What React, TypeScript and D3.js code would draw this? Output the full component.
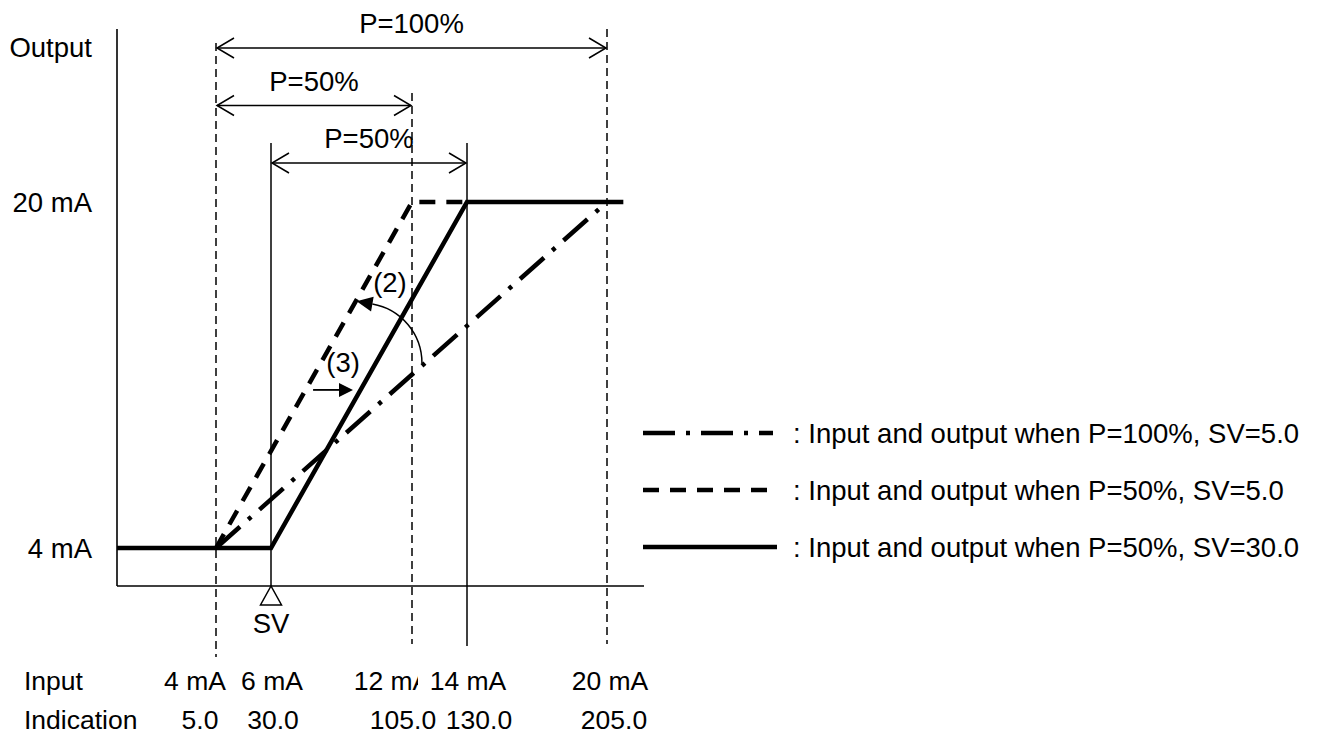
import React from "react";
import * as d3 from "d3";

// ---- data ----
const inputTickValues = [4, 6, 12, 14, 20];
const inputTickLabels = ["4 mA", "6 mA", "12 mA", "14 mA", "20 mA"];
const indicationTickLabels = ["5.0", "30.0", "105.0", "130.0", "205.0"];
const outputTickValues = [4, 20];
const outputTickLabels = ["4 mA", "20 mA"];

// [input mA, output mA]
const seriesP100SV5: [number, number][] = [[4, 4], [20, 20]];
const seriesP50SV5: [number, number][] = [[4, 4], [12, 20], [14, 20]];
const seriesP50SV30: [number, number][] = [[0.4, 4], [6, 4], [14, 20], [20.7, 20]];

const spanLabels = ["P=100%", "P=50%", "P=50%"];
const spanFrom = [4, 4, 6];
const spanTo = [20, 12, 14];

const legendLabels = [
  ": Input and output when P=100%, SV=5.0",
  ": Input and output when P=50%, SV=5.0",
  ": Input and output when P=50%, SV=30.0",
];

const W = 1325;
const H = 753;
const FONT = "'Liberation Sans', Arial, Helvetica, sans-serif";
const FS = 27.5;
const FS_TABLE = 26.5;

// layout offsets of the bottom table labels relative to their tick (px)
const inputLabelDx = [-21, 1, -20, 1, 3];
const indicationLabelDx = [-16, 2, -9, 12, 7];

export default function App() {
  const x = d3.scaleLinear().domain([4, 6, 12, 14, 20]).range([216, 271, 412, 467, 607]);
  const y = d3.scaleLinear().domain([4, 20]).range([548, 202]);
  const line = d3.line<[number, number]>().x((d) => x(d[0])).y((d) => y(d[1]));

  const axisX = 117;
  const axisY = 586;
  const rowY = (i: number) => 48 + i * 57.5;

  // vertical guides
  const guides = [
    { v: 4, dashed: true, top: 43, bottom: 657 },
    { v: 12, dashed: true, top: 93, bottom: 644 },
    { v: 20, dashed: true, top: 29, bottom: 644 },
    { v: 6, dashed: false, top: 143, bottom: axisY },
    { v: 14, dashed: false, top: 143, bottom: 646 },
  ];

  const openHead = (tx: number, ty: number, dir: number) => {
    const L = 17, hw = 10;
    return `M${tx - dir * L},${ty - hw}L${tx},${ty}L${tx - dir * L},${ty + hw}`;
  };

  // arc annotation (2)
  const cx = x(9.87), cy = y(12.55), r = 60;
  const th0 = 0, th1 = (80 * Math.PI) / 180;
  const p0 = [cx + r * Math.cos(th0), cy - r * Math.sin(th0)];
  const p1 = [cx + r * Math.cos(th1), cy - r * Math.sin(th1)];
  const tdir = [-Math.sin(th1), -Math.cos(th1)];
  const hl = 16, hw2 = 7.5;
  const tip = [p1[0] + tdir[0] * hl, p1[1] + tdir[1] * hl];
  const nrm = [-tdir[1], tdir[0]];
  const head2 = `M${tip[0]},${tip[1]}L${p1[0] + nrm[0] * hw2},${p1[1] + nrm[1] * hw2}L${p1[0] - nrm[0] * hw2},${p1[1] - nrm[1] * hw2}Z`;

  // arrow (3)
  const a3x0 = x(7.79), a3x1 = x(9.49), a3y = y(11.31);

  const thick = 4.5;
  const dashDot = "32,11,4,11";
  const dashed = "16,11";

  const legendY = [433, 490, 547];
  const legendStyles = [dashDot, dashed, undefined];

  return (
    <svg width={W} height={H} style={{ display: "block", position: "absolute", left: 0, top: 0, background: "#fff" }} fontFamily={FONT} fontSize={FS}>
      <defs>
        <clipPath id="clip12">
          <rect x={0} y={0} width={x(12) + 6} height={H} />
        </clipPath>
      </defs>
      <rect x={0} y={0} width={W} height={H} fill="#fff" />
      {/* axes */}
      <line x1={axisX} y1={29} x2={axisX} y2={axisY} stroke="#000" strokeWidth={1.6} />
      <line x1={axisX} y1={axisY} x2={644} y2={axisY} stroke="#000" strokeWidth={1.6} />

      {/* guides */}
      {guides.map((g, i) => (
        <line key={i} x1={x(g.v)} x2={x(g.v)} y1={g.top} y2={g.bottom} stroke="#000" strokeWidth={1.5} strokeDasharray={g.dashed ? "8,5" : undefined} />
      ))}

      {/* span arrows */}
      {spanLabels.map((lab, i) => {
        const x0 = x(spanFrom[i]), x1 = x(spanTo[i]), yy = rowY(i);
        return (
          <g key={i}>
            <line x1={x0 + 1} x2={x1 - 1} y1={yy} y2={yy} stroke="#000" strokeWidth={1.5} />
            <path d={openHead(x0 + 1, yy, -1)} fill="none" stroke="#000" strokeWidth={1.5} />
            <path d={openHead(x1 - 1, yy, 1)} fill="none" stroke="#000" strokeWidth={1.5} />
            <text x={(x0 + x1) / 2} y={yy - 15} textAnchor="middle">{lab}</text>
          </g>
        );
      })}

      {/* series */}
      <path d={line(seriesP100SV5) || ""} fill="none" stroke="#000" strokeWidth={thick} strokeDasharray={dashDot} />
      <path d={line(seriesP50SV5) || ""} fill="none" stroke="#000" strokeWidth={thick} strokeDasharray={dashed} />
      <path d={line(seriesP50SV30) || ""} fill="none" stroke="#000" strokeWidth={thick} strokeLinejoin="miter" />

      {/* annotation (2) */}
      <path d={`M${p0[0]},${p0[1]}A${r},${r} 0 0 0 ${p1[0]},${p1[1]}`} fill="none" stroke="#000" strokeWidth={1.5} />
      <path d={head2} fill="#000" />
      <text x={cx + 28} y={cy - 71} textAnchor="middle">(2)</text>

      {/* annotation (3) */}
      <line x1={a3x0} x2={a3x1 - 12} y1={a3y} y2={a3y} stroke="#000" strokeWidth={1.8} />
      <path d={`M${a3x1},${a3y}L${a3x1 - 14},${a3y - 7}L${a3x1 - 14},${a3y + 7}Z`} fill="#000" />
      <text x={x(7.79) + 30} y={a3y - 18} textAnchor="middle">(3)</text>

      {/* SV marker */}
      <path d={`M${x(6)},${axisY}L${x(6) - 10.5},${axisY + 19}L${x(6) + 10.5},${axisY + 19}Z`} fill="#fff" stroke="#000" strokeWidth={1.5} />
      <text x={x(6)} y={633} textAnchor="middle">SV</text>

      {/* y labels */}
      <text x={92} y={57} textAnchor="end">Output</text>
      {outputTickValues.map((v, i) => (
        <text key={i} x={92} y={y(v) + 10} textAnchor="end">{outputTickLabels[i]}</text>
      ))}

      {/* bottom rows */}
      <g fontSize={FS_TABLE}>
        <text x={24} y={690}>Input</text>
        <text x={24} y={729}>Indication</text>
        {inputTickValues.map((v, i) => (
          <g key={i}>
            <text x={x(v) + inputLabelDx[i]} y={690} textAnchor="middle" clipPath={i === 2 ? "url(#clip12)" : undefined}>{inputTickLabels[i]}</text>
            <text x={x(v) + indicationLabelDx[i]} y={729} textAnchor="middle">{indicationTickLabels[i]}</text>
          </g>
        ))}
      </g>

      {/* legend */}
      {legendLabels.map((lab, i) => (
        <g key={i}>
          <line x1={643} x2={i === 2 ? 777 : 773} y1={legendY[i]} y2={legendY[i]} stroke="#000" strokeWidth={thick} strokeDasharray={legendStyles[i]} />
          <text x={793} y={legendY[i] + 10}>{lab}</text>
        </g>
      ))}
    </svg>
  );
}
